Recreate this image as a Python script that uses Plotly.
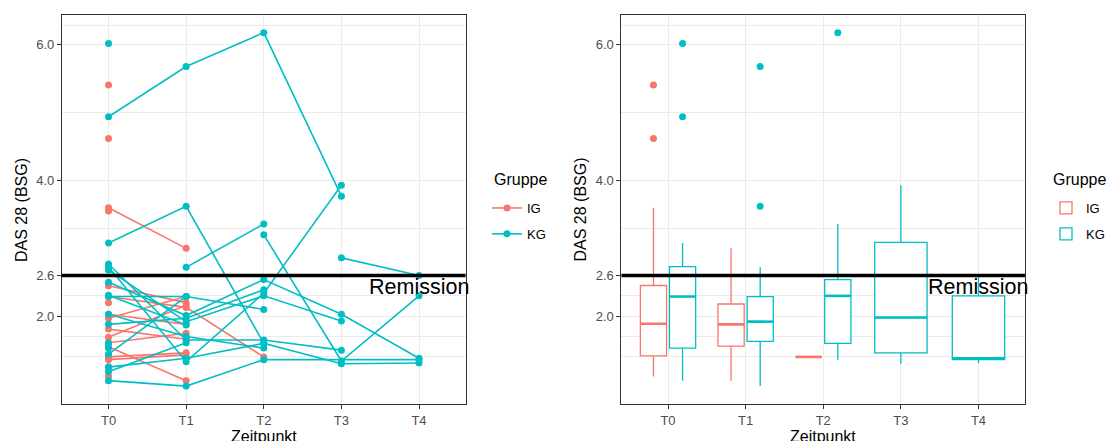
import numpy as np
import plotly.graph_objects as go

timepoints = ["T0", "T1", "T2", "T3", "T4"]
groups = ["IG", "KG"]
group_colors = ["#F8766D", "#00BFC4"]

# DAS 28 (BSG) per subject at T0..T4 (None = not measured)
ig_values = [
    [5.41, None, None, None, None],
    [4.62, None, None, None, None],
    [3.60, 3.00, None, None, None],
    [3.55, None, None, None, None],
    [2.46, None, None, None, None],
    [2.45, 2.20, None, None, None],
    [2.29, 2.13, 1.40, None, None],
    [2.20, None, None, None, None],
    [2.03, 1.88, None, None, None],
    [1.97, 2.29, None, None, None],
    [1.81, 1.66, None, None, None],
    [1.69, 2.16, None, None, None],
    [1.61, 1.75, None, None, None],
    [1.55, 1.05, None, None, None],
    [1.42, None, None, None, None],
    [1.40, 1.46, None, None, None],
    [1.38, None, None, None, None],
    [1.36, 1.43, None, None, None],
    [1.25, None, None, None, None],
    [1.11, None, None, None, None],
]

kg_values = [
    [4.94, 5.68, 6.18, 3.77, None],
    [6.02, None, None, None, None],
    [3.08, 3.62, 1.60, 1.30, 1.31],
    [None, 2.72, 3.36, None, None],
    [2.77, 1.65, 1.65, 1.50, None],
    [2.73, 1.33, 2.34, 3.93, None],
    [2.68, 1.92, 2.30, 1.93, None],
    [2.50, 2.01, 2.54, 2.03, 1.38],
    [2.29, 2.29, 2.10, None, None],
    [2.03, 1.70, 1.53, None, None],
    [1.88, 1.97, 2.39, None, None],
    [1.44, 2.29, None, None, None],
    [1.25, 1.38, 1.60, None, None],
    [1.18, 1.61, None, None, None],
    [1.05, 0.97, 1.36, None, 1.36],
    [2.31, 1.87, None, None, None],
    [1.60, None, None, None, None],
    [1.53, None, None, None, None],
    [None, None, 3.20, 1.34, 2.30],
    [None, None, None, 2.86, 2.60],
]

y_tickvals = [2.0, 2.6, 4.0, 6.0]
y_ticktext = ["2.0", "2.6", "4.0", "6.0"]
y_minor = [1.4, 1.7, 2.3, 3.3, 5.0, 6.29]
remission_level = 2.6

data_by_group = {"IG": ig_values, "KG": kg_values}
color_by_group = dict(zip(groups, group_colors))

W, H = 1110, 441
def px_x(p):
    return p / W
def px_y(p):
    return 1 - p / H

FONT = "Liberation Sans, Arial, Helvetica, sans-serif"
fig = go.Figure()

# ---------------- left panel: lines + points ----------------
for g in groups:
    xs, ys = [], []
    for row in data_by_group[g]:
        for i, v in enumerate(row):
            if v is not None:
                xs.append(i); ys.append(v)
        xs.append(None); ys.append(None)
    fig.add_trace(go.Scatter(x=xs, y=ys, mode="lines", connectgaps=False,
                             line=dict(color=color_by_group[g], width=1.6),
                             showlegend=False, hoverinfo="skip",
                             xaxis="x", yaxis="y"))
for g in groups:
    xs, ys = [], []
    for row in data_by_group[g]:
        for i, v in enumerate(row):
            if v is not None:
                xs.append(i); ys.append(v)
    fig.add_trace(go.Scatter(x=xs, y=ys, mode="markers",
                             marker=dict(color=color_by_group[g], size=7),
                             showlegend=False, xaxis="x", yaxis="y"))
for g in groups:
    fig.add_trace(go.Scatter(x=[None], y=[None], mode="lines+markers", name=g,
                             legendgroup="L" + g,
                             line=dict(color=color_by_group[g], width=1.6),
                             marker=dict(color=color_by_group[g], size=7),
                             legend="legend", xaxis="x", yaxis="y"))

# ---------------- right panel: boxplots ----------------
shown = set()
for t in range(len(timepoints)):
    present = [g for g in groups
               if any(r[t] is not None for r in data_by_group[g])]
    n = len(present)
    for k, g in enumerate(present):
        vals = np.array([r[t] for r in data_by_group[g] if r[t] is not None])
        q1, med, q3 = np.percentile(vals, [25, 50, 75])
        iqr = q3 - q1
        inside = vals[(vals >= q1 - 1.5 * iqr) & (vals <= q3 + 1.5 * iqr)]
        outl = vals[(vals < q1 - 1.5 * iqr) | (vals > q3 + 1.5 * iqr)]
        slot = 0.75 / n
        center = t - 0.375 + slot * (k + 0.5)
        width = slot * 0.9
        col = color_by_group[g]
        fig.add_trace(go.Box(x=[center], q1=[q1], median=[med], q3=[q3],
                             lowerfence=[inside.min()], upperfence=[inside.max()],
                             width=width, whiskerwidth=0, boxpoints=False,
                             fillcolor="white", line=dict(color=col, width=1.3),
                             name=g, legendgroup="R" + g, legend="legend2",
                             showlegend=g not in shown,
                             xaxis="x2", yaxis="y2"))
        shown.add(g)
        fig.add_trace(go.Scatter(x=[center - width / 2, center + width / 2],
                                 y=[med, med], mode="lines",
                                 line=dict(color=col, width=2.6),
                                 showlegend=False, hoverinfo="skip",
                                 xaxis="x2", yaxis="y2"))
        if len(outl):
            fig.add_trace(go.Scatter(x=[center] * len(outl), y=outl, mode="markers",
                                     marker=dict(color=col, size=7),
                                     showlegend=False, xaxis="x2", yaxis="y2"))

# ---------------- axes ----------------
yr = [0.706, 6.44]
xr = [-0.6, 4.6]
common_x = dict(range=xr, tickmode="array", tickvals=list(range(len(timepoints))),
                ticktext=timepoints, ticks="outside", ticklen=4, tickwidth=1,
                tickcolor="#333333", tickfont=dict(size=13, color="#4D4D4D", family=FONT),
                showgrid=True, gridcolor="#EBEBEB", gridwidth=1, zeroline=False,
                showline=True, mirror=True, linecolor="#333333", linewidth=1,
                automargin=False, fixedrange=True)
common_y = dict(range=yr, tickmode="array", tickvals=y_tickvals, ticktext=y_ticktext,
                ticks="outside", ticklen=4, tickwidth=1, tickcolor="#333333",
                tickfont=dict(size=13, color="#4D4D4D", family=FONT),
                showgrid=True, gridcolor="#EBEBEB", gridwidth=1, zeroline=False,
                showline=True, mirror=True, linecolor="#333333", linewidth=1,
                minor=dict(tickmode="array", tickvals=y_minor, showgrid=True,
                           gridcolor="#EBEBEB", gridwidth=0.7, ticks=""),
                automargin=False, fixedrange=True)

legend_common = dict(xanchor="left", y=px_y(193), yanchor="top",
                     font=dict(size=13, color="black"), bgcolor="rgba(0,0,0,0)",
                     traceorder="grouped", tracegroupgap=6)

ydom = [px_y(404), px_y(15)]
fig.update_layout(
    width=W, height=H, margin=dict(l=0, r=0, t=0, b=0),
    plot_bgcolor="white", paper_bgcolor="white",
    font=dict(family=FONT, color="black"),
    boxmode="overlay",
    xaxis=dict(domain=[px_x(62), px_x(466)], anchor="y", **common_x),
    yaxis=dict(domain=ydom, anchor="x", **common_y),
    xaxis2=dict(domain=[px_x(622), px_x(1026)], anchor="y2", **common_x),
    yaxis2=dict(domain=ydom, anchor="x2", **common_y),
    legend=dict(x=px_x(487), **legend_common),
    legend2=dict(x=px_x(1047), **legend_common),
)

for xa, ya in (("x", "y"), ("x2", "y2")):
    fig.add_shape(type="line", xref=f"{xa} domain", yref=ya, x0=0, x1=1,
                  y0=remission_level, y1=remission_level,
                  line=dict(color="black", width=3.5), layer="above")
    fig.add_annotation(x=4, y=2.43, xref=xa, yref=ya, text="Remission",
                       showarrow=False, font=dict(size=21.5, color="black"),
                       xanchor="center", yanchor="middle")

for lx in (492, 1052):
    fig.add_annotation(x=px_x(lx), y=px_y(179), xref="paper", yref="paper",
                       text="Gruppe", showarrow=False, xanchor="left",
                       yanchor="middle", font=dict(size=16, color="black"))
for cx in (264, 824):
    fig.add_annotation(x=px_x(cx), y=px_y(426), xref="paper", yref="paper",
                       text="Zeitpunkt", showarrow=False, xanchor="center",
                       yanchor="top", font=dict(size=16, color="black"))
for cx in (21.5, 581.5):
    fig.add_annotation(x=px_x(cx), y=px_y(209.5), xref="paper", yref="paper",
                       text="DAS 28 (BSG)", showarrow=False, textangle=-90,
                       xanchor="center", yanchor="middle",
                       font=dict(size=16, color="black"))

fig.write_html("out.html", config={"displayModeBar": False},
               post_script="document.body.style.margin='0';document.body.style.overflow='hidden';")
